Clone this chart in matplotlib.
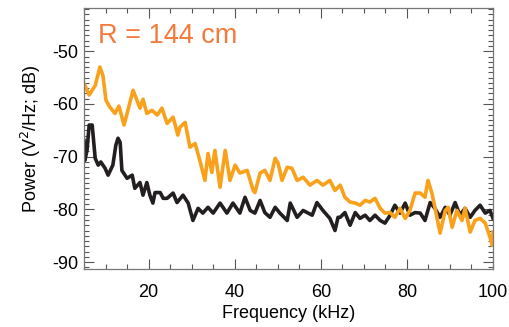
import matplotlib
matplotlib.use("Agg")
import matplotlib.pyplot as plt
from matplotlib.ticker import MultipleLocator

# frequency (kHz) and power (dB)
freq_orange = [5.0, 6.2, 7.6, 8.7, 9.4, 10.1, 11.0, 12.2, 13.1, 14.3, 15.2, 16.4, 17.3, 18.0,
               18.7, 19.6, 20.8, 22.0, 23.1, 24.3, 25.7, 26.8, 27.3, 28.5, 29.6, 30.8, 31.9,
               33.1, 33.8, 34.7, 35.4, 36.6, 37.8, 38.9, 40.1, 41.2, 42.9, 44.3, 44.7, 45.9,
               47.0, 48.2, 49.4, 50.1, 51.0, 52.2, 53.3, 54.5, 55.9, 57.5, 59.1, 60.5, 62.1,
               63.3, 64.5, 65.6, 66.8, 68.0, 69.1, 70.3, 71.4, 72.6, 73.8, 74.9, 76.1, 77.2,
               78.4, 79.6, 80.7, 81.9, 83.1, 84.2, 84.9, 85.8, 86.5, 87.7, 88.9, 89.6, 90.5,
               91.6, 92.8, 93.5, 94.7, 95.8, 97.0, 98.2, 99.3, 99.8, 100.0]
power_orange = [-56.1, -58.3, -56.5, -53.0, -54.6, -59.3, -60.6, -61.8, -60.4, -64.0, -61.2,
                -57.4, -59.3, -60.8, -59.1, -61.8, -61.2, -62.1, -60.8, -63.7, -62.5, -65.9,
                -64.4, -63.5, -68.2, -67.5, -70.7, -74.5, -69.4, -73.0, -68.8, -75.8, -68.8,
                -74.5, -71.6, -73.1, -72.6, -76.4, -76.8, -73.1, -72.6, -74.5, -70.3, -71.3,
                -74.5, -72.0, -72.2, -74.5, -73.9, -75.4, -74.5, -75.4, -74.5, -76.4, -75.4,
                -77.7, -78.6, -78.8, -79.2, -78.3, -78.6, -77.9, -79.8, -80.7, -80.6, -81.5,
                -79.8, -81.7, -80.2, -76.9, -76.9, -77.7, -74.5, -76.9, -79.6, -84.5, -80.2,
                -79.6, -83.4, -80.2, -82.1, -79.8, -84.3, -82.1, -81.7, -82.6, -85.3, -86.8,
                -84.3]

freq_black = [5.0, 5.2, 5.7, 6.2, 6.9, 7.6, 8.3, 8.9, 9.9, 10.6, 11.7, 12.4, 12.9, 13.4, 13.8,
              15.0, 16.2, 16.8, 18.0, 18.7, 19.6, 20.3, 21.0, 21.5, 22.7, 23.4, 24.3, 25.7,
              26.6, 28.0, 29.2, 30.3, 31.5, 32.6, 33.8, 35.0, 36.6, 38.2, 39.6, 41.2, 42.4,
              43.6, 44.7, 45.9, 47.0, 48.2, 49.4, 50.5, 52.2, 52.9, 54.5, 55.9, 58.0, 59.1,
              60.5, 62.1, 63.3, 64.0, 64.5, 65.6, 66.8, 68.0, 69.1, 70.3, 71.4, 72.6, 73.8,
              74.9, 76.1, 77.2, 78.4, 79.6, 80.7, 81.9, 83.1, 84.2, 85.4, 86.5, 87.7, 88.9,
              90.0, 91.2, 92.3, 93.5, 94.7, 95.8, 97.0, 98.2, 99.3, 100.0]
power_black = [-66.9, -70.7, -68.8, -64.0, -64.0, -70.3, -71.6, -71.0, -72.2, -73.5, -71.6,
               -67.8, -66.5, -67.3, -72.6, -74.1, -73.5, -76.0, -74.9, -77.3, -74.9, -77.3,
               -78.8, -76.8, -76.8, -77.9, -77.9, -76.9, -78.7, -77.3, -78.8, -82.1, -79.8,
               -80.7, -79.6, -80.7, -78.8, -80.7, -78.8, -80.7, -77.7, -80.2, -80.7, -78.3,
               -80.6, -81.5, -79.6, -80.7, -82.1, -78.8, -81.5, -80.2, -81.1, -78.7, -80.2,
               -81.7, -84.0, -81.5, -81.5, -80.6, -83.0, -80.6, -81.7, -81.1, -82.1, -81.1,
               -82.1, -82.6, -81.1, -79.2, -80.7, -78.8, -81.1, -80.6, -80.7, -82.1, -78.7,
               -79.8, -81.5, -79.6, -81.1, -78.7, -81.1, -79.8, -81.5, -80.2, -79.2, -80.7,
               -80.2, -81.7]

plt.rcParams['font.family'] = ['Liberation Sans', 'DejaVu Sans']
plt.rcParams['axes.unicode_minus'] = False

fig = plt.figure(figsize=(5.1, 3.27), dpi=100)
ax = fig.add_axes([0.1647, 0.1774, 0.802, 0.7981])

ax.plot(freq_black, power_black, color='#231f20', lw=2.6, solid_joinstyle='round')
ax.plot(freq_orange, power_orange, color='#f9a11b', lw=2.6, solid_joinstyle='round')

ax.set_xlim(5, 100)
ax.set_ylim(-91.3, -41.8)
ax.set_xticks([20, 40, 60, 80, 100])
ax.xaxis.set_minor_locator(MultipleLocator(5))
ax.yaxis.set_major_locator(MultipleLocator(10))
ax.yaxis.set_minor_locator(MultipleLocator(1))

ax.tick_params(which='both', direction='in', top=True, right=True, width=0.8, color='#555555')
ax.tick_params(which='major', length=7, labelsize=13)
ax.tick_params(which='minor', length=3.5)
ax.tick_params(axis='x', pad=11)
ax.tick_params(axis='y', pad=4)
for s in ax.spines.values():
    s.set_color('#777777')
    s.set_linewidth(0.9)

ax.set_xlabel('Frequency (kHz)', fontsize=13, labelpad=3)
ax.set_ylabel('Power (V$^2$/Hz; dB)', fontsize=13, labelpad=7)

ax.text(0.034, 0.865, 'R = 144 cm', transform=ax.transAxes, color='#f47a3c', fontsize=19.5)

fig.savefig('out.png', dpi=100)
